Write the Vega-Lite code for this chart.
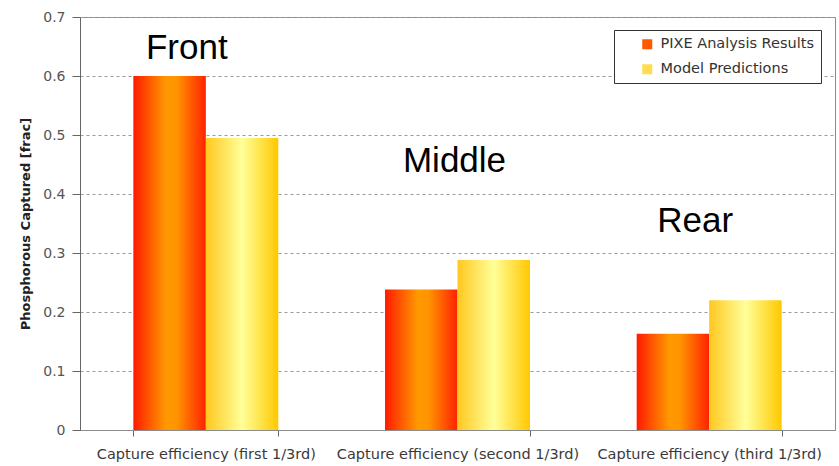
{
  "$schema": "https://vega.github.io/schema/vega-lite/v6.json",
  "width": 755,
  "height": 413,
  "autosize": {"type": "none"},
  "padding": {"left": 80, "top": 17, "right": 4, "bottom": 36},
  "background": "white",
  "config": {
    "font": "DejaVu Sans",
    "view": {"stroke": "#8c8c8c", "strokeWidth": 1}
  },
  "datasets": {
    "bars": [
      {"position": "Capture efficiency (first 1/3rd)", "series": "PIXE Analysis Results", "value": 0.6},
      {"position": "Capture efficiency (first 1/3rd)", "series": "Model Predictions", "value": 0.495},
      {"position": "Capture efficiency (second 1/3rd)", "series": "PIXE Analysis Results", "value": 0.238},
      {"position": "Capture efficiency (second 1/3rd)", "series": "Model Predictions", "value": 0.288},
      {"position": "Capture efficiency (third 1/3rd)", "series": "PIXE Analysis Results", "value": 0.163},
      {"position": "Capture efficiency (third 1/3rd)", "series": "Model Predictions", "value": 0.22}
    ],
    "labels": [
      {"position": "Capture efficiency (first 1/3rd)", "label": "Front", "y": 0.628},
      {"position": "Capture efficiency (second 1/3rd)", "label": "Middle", "y": 0.438},
      {"position": "Capture efficiency (third 1/3rd)", "label": "Rear", "y": 0.335}
    ]
  },
  "encoding": {
    "x": {
      "field": "position",
      "type": "nominal",
      "sort": null,
      "scale": {"paddingInner": 0.424, "paddingOuter": 0.212},
      "axis": {
        "title": null,
        "labelAngle": 0,
        "labelFontSize": 14.5,
        "labelColor": "#3a3a3a",
        "labelPadding": 11,
        "labelLimit": 300,
        "tickBand": "extent",
        "tickColor": "#666666",
        "tickSize": 6,
        "domainColor": "#8c8c8c",
        "grid": false
      }
    }
  },
  "layer": [
    {
      "data": {"name": "bars"},
      "mark": {"type": "point", "shape": "square", "filled": true, "opacity": 0},
      "encoding": {
        "xOffset": {"field": "series", "type": "nominal", "sort": null},
        "y": {
          "field": "value",
          "type": "quantitative",
          "scale": {"domain": [0, 0.7]},
          "axis": {
            "title": "Phosphorous Captured [frac]",
            "titleFontSize": 13,
            "titleFontWeight": "bold",
            "titleColor": "#222222",
            "titlePadding": 10,
            "values": [0, 0.1, 0.2, 0.3, 0.4, 0.5, 0.6, 0.7],
            "format": ".1~f",
            "labelFontSize": 14,
            "labelColor": "#555555",
            "labelPadding": 7,
            "tickSize": 8,
            "tickColor": "#666666",
            "domainColor": "#666666",
            "gridColor": "#999999",
            "gridDash": [3, 3],
            "gridWidth": 1
          }
        },
        "color": {
          "field": "series",
          "type": "nominal",
          "sort": null,
          "scale": {"range": ["#ff5a00", "#ffdc50"]},
          "legend": {
            "title": null,
            "orient": "none",
            "legendX": 534,
            "legendY": 13,
            "symbolType": "square",
            "symbolSize": 100,
            "symbolOpacity": 1,
            "symbolStrokeWidth": 0,
            "symbolOffset": 19,
            "labelFontSize": 14.5,
            "labelColor": "#333333",
            "labelOffset": 6,
            "labelExpr": "datum.label + '\u00a0\u00a0\u00a0'",
            "labelLimit": 300,
            "rowPadding": 10,
            "padding": 7,
            "strokeColor": "#333333",
            "fillColor": "white"
          }
        }
      }
    },
    {
      "data": {"name": "bars"},
      "transform": [{"filter": "datum.series === 'PIXE Analysis Results'"}],
      "mark": {
        "type": "bar",
        "color": {"gradient": "linear", "x1": 0, "y1": 0, "x2": 1, "y2": 0,
          "stops": [
            {"offset": 0, "color": "#ff1a00"},
            {"offset": 0.45, "color": "#ff9900"},
            {"offset": 0.6, "color": "#ff9400"},
            {"offset": 1, "color": "#ff2200"}
          ]}
      },
      "encoding": {
        "xOffset": {"field": "series", "type": "nominal", "sort": null},
        "y": {"field": "value", "type": "quantitative"}
      }
    },
    {
      "data": {"name": "bars"},
      "transform": [{"filter": "datum.series === 'Model Predictions'"}],
      "mark": {
        "type": "bar",
        "color": {"gradient": "linear", "x1": 0, "y1": 0, "x2": 1, "y2": 0,
          "stops": [
            {"offset": 0, "color": "#ffc820"},
            {"offset": 0.5, "color": "#ffff99"},
            {"offset": 1, "color": "#ffc800"}
          ]}
      },
      "encoding": {
        "xOffset": {"field": "series", "type": "nominal", "sort": null},
        "y": {"field": "value", "type": "quantitative"}
      }
    },
    {
      "data": {"name": "labels"},
      "transform": [{"filter": "datum.label === 'Front'"}],
      "mark": {"type": "text", "font": "Liberation Sans", "fontSize": 35, "color": "black", "baseline": "alphabetic", "dx": -19},
      "encoding": {
        "y": {"field": "y", "type": "quantitative"},
        "text": {"field": "label"}
      }
    },
    {
      "data": {"name": "labels"},
      "transform": [{"filter": "datum.label === 'Middle'"}],
      "mark": {"type": "text", "font": "Liberation Sans", "fontSize": 35, "color": "black", "baseline": "alphabetic", "dx": -3},
      "encoding": {
        "y": {"field": "y", "type": "quantitative"},
        "text": {"field": "label"}
      }
    },
    {
      "data": {"name": "labels"},
      "transform": [{"filter": "datum.label === 'Rear'"}],
      "mark": {"type": "text", "font": "Liberation Sans", "fontSize": 35, "color": "black", "baseline": "alphabetic", "dx": -14},
      "encoding": {
        "y": {"field": "y", "type": "quantitative"},
        "text": {"field": "label"}
      }
    }
  ]
}
